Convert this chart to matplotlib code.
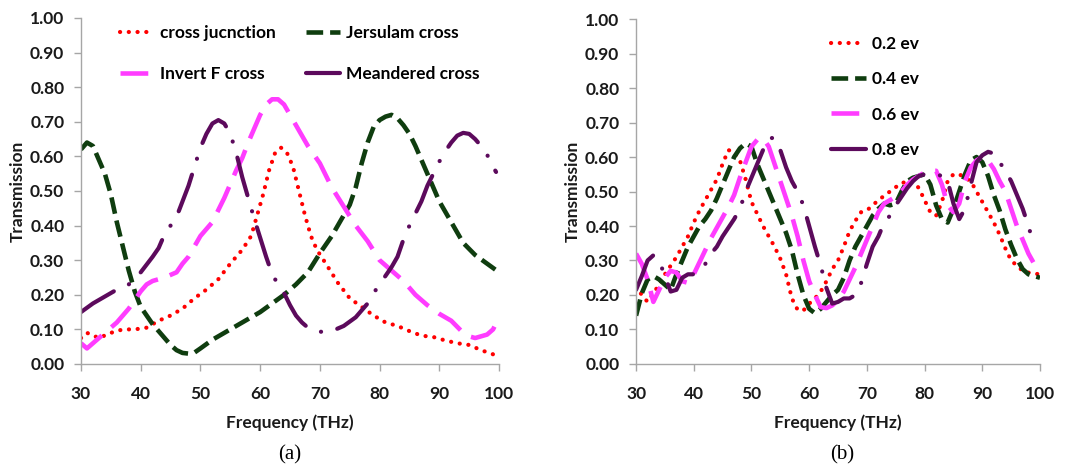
import matplotlib

matplotlib.use("Agg")
import matplotlib.pyplot as plt

plt.rcParams["font.family"] = ["Lato", "DejaVu Sans"]
plt.rcParams["font.weight"] = "bold"
plt.rcParams["axes.labelweight"] = "bold"
plt.rcParams["lines.scale_dashes"] = False

# --- (a) 構造ごとの透過率 ---
f_cross = [30, 31, 33, 35, 37, 39, 41, 43, 45, 47, 49, 51, 53, 55, 57, 58.5, 59.5, 60.5, 61.5,
           62.5, 63.5, 64.5, 65.5, 66.5, 67.5, 68.5, 69.5, 71, 73, 75, 77, 79, 81, 83, 85, 87,
           89, 91, 93, 95, 97, 99]
t_cross = [0.075, 0.09, 0.075, 0.09, 0.10, 0.10, 0.105, 0.125, 0.14, 0.16, 0.19, 0.215, 0.245,
           0.29, 0.33, 0.37, 0.43, 0.49, 0.56, 0.61, 0.625, 0.61, 0.57, 0.50, 0.43, 0.37, 0.33,
           0.29, 0.235, 0.19, 0.165, 0.14, 0.12, 0.11, 0.095, 0.082, 0.078, 0.068, 0.06, 0.055,
           0.04, 0.028]

f_jer = [30, 31, 32, 33, 34, 35, 36, 37, 38, 39, 40, 41, 42, 43, 44, 45, 46, 47, 48, 49, 50, 52,
         54, 56, 58, 60, 62, 64, 66, 68, 70, 72, 74, 75, 76, 77, 78, 79, 80, 81, 82, 83, 84, 85,
         86, 87, 88, 89, 90, 92, 94, 96, 98, 100]
t_jer = [0.62, 0.64, 0.63, 0.59, 0.55, 0.49, 0.41, 0.34, 0.27, 0.21, 0.165, 0.14, 0.115, 0.095,
         0.075, 0.055, 0.04, 0.032, 0.03, 0.033, 0.045, 0.07, 0.09, 0.11, 0.13, 0.15, 0.175, 0.20,
         0.23, 0.265, 0.32, 0.37, 0.43, 0.46, 0.51, 0.58, 0.64, 0.685, 0.705, 0.715, 0.72, 0.71,
         0.69, 0.665, 0.63, 0.59, 0.55, 0.51, 0.47, 0.41, 0.35, 0.315, 0.29, 0.265]

f_invf = [30, 31, 32, 34, 36, 38, 39, 40, 41, 42, 44, 46, 47, 48, 50, 52, 54, 56, 57, 58, 59, 60,
          61, 62, 63, 64, 65, 66, 68, 70, 72, 74, 76, 78, 80, 82, 84, 86, 88, 90, 92, 94, 95, 96,
          97, 98, 99, 100]
t_invf = [0.06, 0.045, 0.06, 0.09, 0.12, 0.16, 0.185, 0.21, 0.23, 0.24, 0.25, 0.265, 0.29, 0.31,
          0.37, 0.41, 0.48, 0.56, 0.595, 0.64, 0.68, 0.72, 0.75, 0.765, 0.765, 0.75, 0.72, 0.69,
          0.63, 0.58, 0.51, 0.455, 0.40, 0.355, 0.30, 0.27, 0.24, 0.20, 0.17, 0.145, 0.125, 0.09,
          0.08, 0.075, 0.08, 0.085, 0.10, 0.135]

f_mea = [30, 32, 34, 36, 38, 40, 42, 43, 44, 45, 46, 47, 48, 49, 50, 51, 52, 53, 54, 55, 56, 57,
         58, 59, 60, 61, 62, 63, 64, 65, 66, 67, 68, 70, 72, 74, 76, 78, 79, 80, 81, 82, 83, 84,
         85, 86, 87, 88, 89, 90, 91, 92, 93, 94, 95, 96, 97, 98, 99, 99.5]
t_mea = [0.15, 0.175, 0.195, 0.215, 0.23, 0.265, 0.31, 0.335, 0.375, 0.40, 0.425, 0.47, 0.515,
         0.57, 0.625, 0.665, 0.695, 0.705, 0.695, 0.665, 0.61, 0.54, 0.48, 0.42, 0.365, 0.31,
         0.26, 0.23, 0.205, 0.17, 0.14, 0.12, 0.105, 0.093, 0.095, 0.11, 0.135, 0.175, 0.205,
         0.23, 0.255, 0.28, 0.31, 0.36, 0.40, 0.435, 0.47, 0.515, 0.55, 0.585, 0.615, 0.64, 0.66,
         0.668, 0.665, 0.65, 0.63, 0.605, 0.57, 0.555]

# --- (b) 化学ポテンシャルごとの透過率 ---
f_02 = [30, 31, 32, 33, 34, 35, 36, 37, 38, 39, 40, 41, 42, 43, 44, 45, 46, 47, 48, 49, 50, 51,
        52, 53, 54, 55, 56, 57, 58, 59, 60, 61, 62, 63, 64, 65, 66, 67, 68, 69, 70, 72, 74, 76,
        78, 79, 80, 81, 82, 83, 84, 85, 86, 87, 88, 89, 90, 91, 92, 93, 94, 95, 96, 97, 98, 99, 100]
t_02 = [0.225, 0.20, 0.18, 0.205, 0.23, 0.26, 0.285, 0.31, 0.34, 0.37, 0.41, 0.445, 0.475, 0.505,
        0.535, 0.58, 0.62, 0.615, 0.59, 0.535, 0.47, 0.435, 0.40, 0.37, 0.34, 0.305, 0.26, 0.19,
        0.157, 0.155, 0.175, 0.19, 0.21, 0.24, 0.275, 0.30, 0.34, 0.385, 0.415, 0.44, 0.445,
        0.475, 0.50, 0.525, 0.53, 0.51, 0.475, 0.44, 0.43, 0.47, 0.53, 0.55, 0.55, 0.54, 0.53,
        0.50, 0.47, 0.44, 0.41, 0.375, 0.335, 0.30, 0.285, 0.27, 0.265, 0.262, 0.26]

f_04 = list(range(30, 101))
t_04 = [0.14, 0.205, 0.245, 0.255, 0.245, 0.23, 0.215, 0.26, 0.30, 0.34, 0.37, 0.40, 0.42, 0.445,
        0.48, 0.52, 0.56, 0.60, 0.625, 0.64, 0.63, 0.58, 0.54, 0.50, 0.46, 0.42, 0.38, 0.33, 0.26,
        0.20, 0.16, 0.147, 0.16, 0.18, 0.20, 0.215, 0.25, 0.30, 0.34, 0.37, 0.40, 0.43, 0.45,
        0.465, 0.46, 0.465, 0.50, 0.53, 0.54, 0.545, 0.55, 0.52, 0.46, 0.42, 0.41, 0.45, 0.50,
        0.55, 0.59, 0.60, 0.585, 0.545, 0.49, 0.445, 0.39, 0.345, 0.305, 0.275, 0.26, 0.255, 0.25]

f_06 = list(range(30, 101))
t_06 = [0.32, 0.29, 0.245, 0.18, 0.215, 0.25, 0.27, 0.265, 0.24, 0.235, 0.26, 0.295, 0.33, 0.365,
        0.395, 0.425, 0.455, 0.49, 0.54, 0.585, 0.63, 0.65, 0.655, 0.63, 0.58, 0.53, 0.48, 0.43,
        0.37, 0.30, 0.24, 0.20, 0.165, 0.162, 0.17, 0.185, 0.21, 0.245, 0.28, 0.32, 0.36, 0.40,
        0.44, 0.465, 0.475, 0.485, 0.50, 0.52, 0.535, 0.545, 0.555, 0.56, 0.56, 0.52, 0.46, 0.44,
        0.465, 0.53, 0.57, 0.59, 0.60, 0.59, 0.565, 0.53, 0.50, 0.45, 0.40, 0.36, 0.32, 0.29, 0.27]

f_08 = list(range(30, 100))
t_08 = [0.215, 0.255, 0.30, 0.315, 0.30, 0.255, 0.21, 0.215, 0.25, 0.26, 0.26, 0.27, 0.29, 0.32,
        0.34, 0.37, 0.395, 0.42, 0.45, 0.50, 0.54, 0.58, 0.62, 0.655, 0.655, 0.62, 0.57, 0.53,
        0.50, 0.46, 0.40, 0.34, 0.285, 0.22, 0.175, 0.18, 0.19, 0.19, 0.20, 0.235, 0.29, 0.34,
        0.37, 0.41, 0.43, 0.46, 0.485, 0.51, 0.53, 0.545, 0.55, 0.55, 0.55, 0.545, 0.53, 0.465,
        0.42, 0.45, 0.52, 0.585, 0.605, 0.615, 0.61, 0.585, 0.56, 0.53, 0.49, 0.45, 0.40, 0.34]

# 線種（Excel 風）
RED = dict(color="#ff0000", lw=3.0, dashes=(0.1, 6.2), dash_capstyle="round")
GREEN = dict(color="#0f3d0f", lw=3.3, dashes=(12, 5))
MAGENTA = dict(color="#ff3cff", lw=3.3, dashes=(20, 9))
PURPLE = dict(color="#5c0a5c", lw=3.0, dashes=(28, 12, 0.1, 12), dash_capstyle="round")
TXT = "#1a1a1a"


def style_axes(ax):
    ax.set_xlim(30, 100)
    ax.set_ylim(0, 1.0)
    ax.set_xticks(range(30, 101, 10))
    ax.set_yticks([i / 10 for i in range(11)])
    ax.set_yticklabels([f"{i / 10:.2f}" for i in range(11)])
    for s in ("top", "right"):
        ax.spines[s].set_visible(False)
    for s in ("left", "bottom"):
        ax.spines[s].set_color("#a6a6a6")
        ax.spines[s].set_linewidth(1.0)
    ax.tick_params(axis="both", direction="out", length=5, width=1, color="#a6a6a6",
                   labelsize=12.5, labelcolor=TXT)
    ax.tick_params(axis="y", pad=7)
    ax.tick_params(axis="x", pad=11)
    ax.set_xlabel("Frequency (THz)", fontsize=12.5, color=TXT, labelpad=9)
    ax.set_ylabel("Transmission", fontsize=12.5, color=TXT, labelpad=3)


fig = plt.figure(figsize=(10.67, 4.66), dpi=100)
ax1 = fig.add_axes([0.0759, 0.2189, 0.3918, 0.7425])
ax2 = fig.add_axes([0.5961, 0.2189, 0.3786, 0.7403])

l1, = ax1.plot(f_cross, t_cross, label="cross jucnction", **RED)
l2, = ax1.plot(f_jer, t_jer, label="Jersulam cross", **GREEN)
l3, = ax1.plot(f_invf, t_invf, label="Invert F cross", **MAGENTA)
l4, = ax1.plot(f_mea, t_mea, label="Meandered cross", **PURPLE)
style_axes(ax1)
ax1.legend([l1, l3, l2, l4], [l.get_label() for l in (l1, l3, l2, l4)], ncol=2,
           loc="upper left", bbox_to_anchor=(0.055, 1.025), frameon=False, fontsize=12.5,
           handlelength=2.0, handletextpad=0.35, labelspacing=1.45, columnspacing=1.7)

ax2.plot(f_02, t_02, label="0.2 ev", **RED)
ax2.plot(f_04, t_04, label="0.4 ev", **GREEN)
ax2.plot(f_06, t_06, label="0.6 ev", **MAGENTA)
ax2.plot(f_08, t_08, label="0.8 ev", **PURPLE)
style_axes(ax2)
ax2.legend(loc="upper left", bbox_to_anchor=(0.445, 0.995), frameon=False, fontsize=12.5,
           handlelength=2.0, handletextpad=0.35, labelspacing=1.1)

fig.text(290 / 1067, 1 - 455 / 466, "(a)", family="Liberation Serif", fontsize=15,
         fontweight="normal", ha="center", va="center")
fig.text(842 / 1067, 1 - 455 / 466, "(b)", family="Liberation Serif", fontsize=15,
         fontweight="normal", ha="center", va="center")

fig.savefig("out.png", dpi=100)
